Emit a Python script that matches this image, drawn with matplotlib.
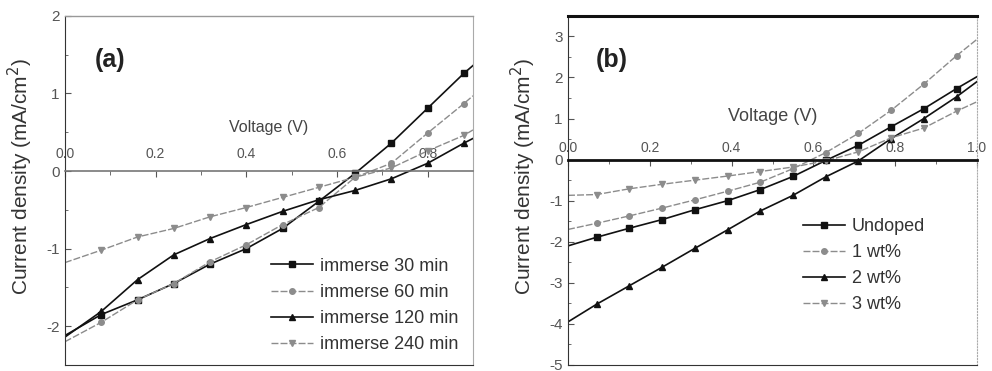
import matplotlib
matplotlib.use("Agg")
import matplotlib.pyplot as plt
from matplotlib.ticker import MultipleLocator

plt.rcParams['font.family'] = ['Liberation Sans', 'DejaVu Sans']
plt.rcParams['axes.unicode_minus'] = False

# panel (a): immersion time
va = [0, 0.08, 0.16, 0.24, 0.32, 0.40, 0.48, 0.56, 0.64, 0.72, 0.80, 0.88, 0.90]
j30 = [-2.12, -1.85, -1.66, -1.45, -1.20, -1.00, -0.74, -0.39, -0.03, 0.36, 0.81, 1.26, 1.36]
j60 = [-2.20, -1.95, -1.66, -1.45, -1.17, -0.95, -0.69, -0.47, -0.08, 0.10, 0.49, 0.87, 0.97]
j120 = [-2.14, -1.81, -1.40, -1.08, -0.87, -0.69, -0.52, -0.37, -0.25, -0.10, 0.10, 0.36, 0.42]
j240 = [-1.18, -1.02, -0.85, -0.74, -0.59, -0.47, -0.34, -0.21, -0.08, 0.04, 0.26, 0.46, 0.53]
labels_a = ['immerse 30 min', 'immerse 60 min', 'immerse 120 min', 'immerse 240 min']

# panel (b): doping level
vb = [0, 0.07, 0.15, 0.23, 0.31, 0.39, 0.47, 0.55, 0.63, 0.71, 0.79, 0.87, 0.95, 1.0]
undoped = [-2.10, -1.89, -1.67, -1.46, -1.22, -1.00, -0.73, -0.41, -0.02, 0.35, 0.80, 1.24, 1.73, 2.02]
wt1 = [-1.70, -1.55, -1.37, -1.18, -0.98, -0.77, -0.55, -0.22, 0.17, 0.64, 1.20, 1.84, 2.53, 2.93]
wt2 = [-3.95, -3.52, -3.07, -2.62, -2.16, -1.71, -1.25, -0.87, -0.42, -0.03, 0.51, 1.00, 1.53, 1.90]
wt3 = [-0.87, -0.85, -0.71, -0.60, -0.50, -0.40, -0.29, -0.18, -0.03, 0.19, 0.53, 0.77, 1.18, 1.41]
labels_b = ['Undoped', '1 wt%', '2 wt%', '3 wt%']

black = '#111111'
gray = '#8c8c8c'
tickc = '#555555'
styles = [
    dict(color=black, marker='s', lw=1.2, ms=4),
    dict(color=gray, marker='o', lw=1.0, ms=4, dashes=(5, 1.5)),
    dict(color=black, marker='^', lw=1.2, ms=4.5),
    dict(color=gray, marker='v', lw=1.0, ms=4.5, dashes=(5, 1.5)),
]

fig = plt.figure(figsize=(9.92, 3.71), dpi=100)
ax1 = fig.add_axes([0.0655, 0.0162, 0.4113, 0.941])
ax2 = fig.add_axes([0.5726, 0.0162, 0.4123, 0.941])


def setup(ax, xmax, ylo, yhi, xticks, zero_lw, zero_c, top_lw, top_c, right_ls,
          xl_size, xl_pad, xt_pad):
    ax.set_xlim(0, xmax)
    ax.set_ylim(ylo, yhi)
    # x axis drawn along zero, labels above it
    ax.spines['top'].set_position(('data', 0))
    ax.spines['top'].set_linewidth(zero_lw)
    ax.spines['top'].set_color(zero_c)
    ax.xaxis.tick_top()
    ax.xaxis.set_label_position('top')
    ax.set_xticks(xticks)
    ax.xaxis.set_minor_locator(MultipleLocator(0.1))
    ax.tick_params(axis='x', which='both', direction='in', colors=tickc,
                   labelsize=10, pad=xt_pad, length=4)
    ax.tick_params(axis='x', which='minor', length=3)
    ax.set_xlabel('Voltage (V)', fontsize=xl_size, color='#444444', labelpad=xl_pad)
    ax.yaxis.set_major_locator(MultipleLocator(1))
    ax.yaxis.set_minor_locator(MultipleLocator(0.5))
    ax.yaxis.set_major_formatter(lambda v, p: '%d' % round(v))
    ax.tick_params(axis='y', which='both', direction='in', colors=tickc,
                   labelsize=11, length=4, pad=4)
    ax.tick_params(axis='y', which='minor', length=2.5)
    ax.spines['left'].set_color('#333333')
    ax.spines['bottom'].set_color('#333333')
    ax.spines['right'].set_color('#aaaaaa')
    ax.spines['right'].set_linestyle(right_ls)
    # frame line at the top of the plot box
    ax.plot([0, 1], [1, 1], transform=ax.transAxes, color=top_c, lw=top_lw,
            clip_on=False, zorder=5)
    ax.set_ylabel('Current density (mA/cm$^2$)', fontsize=15, color='#333333')
    ax.yaxis.set_label_coords(-0.074, 0.54)


setup(ax1, 0.9, -2.5, 2.0, [0, 0.2, 0.4, 0.6, 0.8], 1.2, '#777777', 1.0, '#999999', '-',
      11.5, 11, 7)
setup(ax2, 1.0, -5.0, 3.5, [0, 0.2, 0.4, 0.6, 0.8, 1.0], 2.0, black, 2.2, black, ':',
      13, 15, 3)

for ys, lab, st in zip([j30, j60, j120, j240], labels_a, styles):
    ax1.plot(va, ys, label=lab, markevery=slice(1, -1), **st)
for ys, lab, st in zip([undoped, wt1, wt2, wt3], labels_b, styles):
    ax2.plot(vb, ys, label=lab, markevery=slice(1, -1), **st)

ax1.text(0.072, 0.874, '(a)', transform=ax1.transAxes, fontsize=18,
         fontweight='bold', color='#222222', va='center')
ax2.text(0.068, 0.874, '(b)', transform=ax2.transAxes, fontsize=18,
         fontweight='bold', color='#222222', va='center')

ax1.legend(loc='upper left', bbox_to_anchor=(0.505, 0.307), frameon=False,
           fontsize=13, handlelength=2.3, handletextpad=0.4, labelspacing=0.5,
           borderpad=0, borderaxespad=0, labelcolor='#333333')
ax2.legend(loc='upper left', bbox_to_anchor=(0.575, 0.42), frameon=False,
           fontsize=13, handlelength=2.3, handletextpad=0.4, labelspacing=0.5,
           borderpad=0, borderaxespad=0, labelcolor='#333333')

fig.savefig('out.png', dpi=100)
